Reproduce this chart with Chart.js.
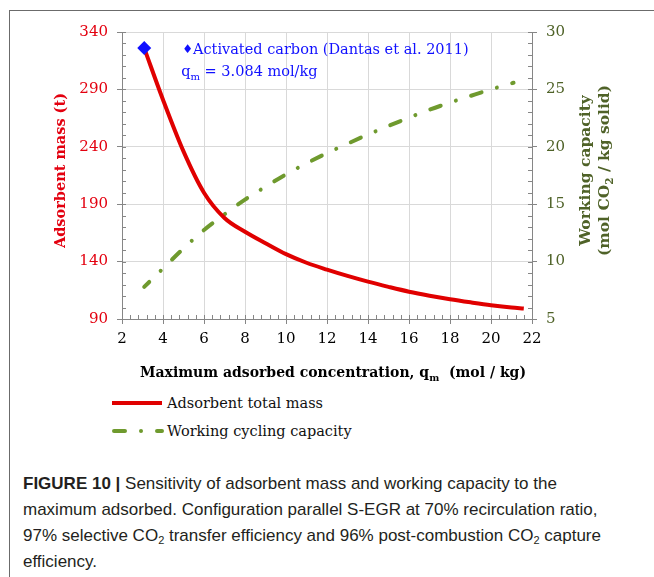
<!DOCTYPE html>
<html>
<head>
<meta charset="utf-8">
<script src="https://cdn.jsdelivr.net/npm/chart.js@4.4.1/dist/chart.umd.min.js"></script>
<style>
  html, body { margin: 0; padding: 0; background: #fff; }
  body { width: 654px; height: 577px; position: relative; overflow: hidden; }
  #frame { position: absolute; left: 9px; top: 10px; width: 700px; height: 600px; border-left: 1px solid #6b6b6b; border-top: 1px solid #6b6b6b; }
  #chartBox { position: absolute; left: 0; top: 0; width: 654px; height: 392px; }
  .leg { position: absolute; left: 110px; height: 20px; display: flex; align-items: center; font-family: "DejaVu Serif", serif; font-size: 14.5px; color: #111; }
  .leg svg { margin-right: 3px; }
  #caption { position: absolute; left: 23px; top: 471px; width: 630px; white-space: nowrap; font-family: "Liberation Sans", Arial, sans-serif; font-size: 17px; line-height: 26px; color: #231f20; }
  #caption b { font-weight: bold; }
  #caption sub { font-size: 11px; vertical-align: -3px; line-height: 0; }
</style>
</head>
<body>
<div id="frame"></div>
<div id="chartBox"><canvas id="adsorbentChart"></canvas></div>
<div class="leg" style="top:393px">
  <svg width="54" height="10"><line x1="2" y1="5" x2="52" y2="5" stroke="#e00000" stroke-width="4"/></svg><span>Adsorbent total mass</span>
</div>
<div class="leg" style="top:421px">
  <svg width="54" height="10"><line x1="4" y1="5" x2="52" y2="5" stroke="#6f9a2e" stroke-width="4" stroke-linecap="round" stroke-dasharray="11 16 0.01 16"/></svg><span>Working cycling capacity</span>
</div>
<div id="caption"><b>FIGURE 10 |</b> Sensitivity of adsorbent mass and working capacity to the<br>maximum adsorbed. Configuration parallel S-EGR at 70% recirculation ratio,<br>97% selective CO<sub>2</sub> transfer efficiency and 96% post-combustion CO<sub>2</sub> capture<br>efficiency.</div>
<script>
// adsorbent total mass (t) vs maximum adsorbed concentration qm (mol/kg)
const massQm = [3.084, 4, 5, 6, 7, 8, 9, 10, 11, 12, 13, 14, 15, 16, 17, 18, 19, 20, 21, 21.6];
const massTonnes = [326, 281, 236, 200, 178, 166, 156, 146.5, 139, 133, 127.5, 122.5, 118, 113.8, 110.3, 107.2, 104.5, 102, 100, 99.2];

// working cycling capacity (mol CO2 / kg solid)
const capQm = [3.084, 4, 5, 6, 7, 8, 9, 10, 11, 12, 13, 14, 15, 16, 17, 18, 19, 20, 21.1];
const capValues = [7.8, 9.4, 11.15, 12.75, 14.12, 15.4, 16.52, 17.6, 18.56, 19.45, 20.27, 21.07, 21.82, 22.54, 23.23, 23.85, 24.43, 25.0, 25.58];

// activated carbon marker (Dantas et al. 2011)
const markerQm = [3.084];
const markerMass = [326];

const xRange = [2, 22];
const massRange = [90, 340];
const capRange = [5, 30];

const RED = "#e00000";
const RED_TEXT = "#e3000f";
const GREEN = "#6f9a2e";
const GREEN_TEXT = "#4f6228";
const BLUE = "#1010ff";
const AXIS = "#868686";
const SERIF = "'DejaVu Serif', serif";

function toPoints(xs, ys) {
  return xs.map((x, i) => ({ x, y: ys[i] }));
}

function drawRich(ctx, parts, x, y, align) {
  let total = 0;
  parts.forEach((p) => {
    ctx.font = p.font;
    p.w = ctx.measureText(p.text).width;
    total += p.w;
  });
  let cx = align === "center" ? x - total / 2 : x;
  ctx.textAlign = "left";
  ctx.textBaseline = "alphabetic";
  parts.forEach((p) => {
    ctx.font = p.font;
    ctx.fillText(p.text, cx, y + (p.dy || 0));
    cx += p.w;
  });
}

const extras = {
  id: "extras",
  afterDraw(chart) {
    const { ctx, chartArea } = chart;
    const { x, y, y2 } = chart.scales;
    ctx.save();

    // inner minor ticks (Excel style: 5 per major interval)
    ctx.strokeStyle = AXIS;
    ctx.lineWidth = 1;
    ctx.beginPath();
    for (let i = 0; i <= 50; i++) {
      const px = Math.round(x.getPixelForValue(xRange[0] + i * 0.4)) + 0.5;
      ctx.moveTo(px, chartArea.bottom);
      ctx.lineTo(px, chartArea.bottom - 4);
    }
    for (let i = 0; i <= 25; i++) {
      const py = Math.round(y.getPixelForValue(massRange[0] + i * 10)) + 0.5;
      ctx.moveTo(chartArea.left, py);
      ctx.lineTo(chartArea.left + 4, py);
      const py2 = Math.round(y2.getPixelForValue(capRange[0] + i)) + 0.5;
      ctx.moveTo(chartArea.right, py2);
      ctx.lineTo(chartArea.right - 4, py2);
    }
    ctx.stroke();

    const midY = (chartArea.top + chartArea.bottom) / 2;

    // x axis title
    ctx.fillStyle = "#000";
    drawRich(ctx, [
      { text: "Maximum adsorbed concentration, q", font: "bold 14px " + SERIF },
      { text: "m", font: "bold 9.5px " + SERIF, dy: 4 },
      { text: "  (mol / kg)", font: "bold 14px " + SERIF }
    ], 333, 377, "center");

    // left axis title
    ctx.save();
    ctx.translate(65, midY - 5);
    ctx.rotate(-Math.PI / 2);
    ctx.fillStyle = RED_TEXT;
    drawRich(ctx, [{ text: "Adsorbent mass (t)", font: "bold 14.5px " + SERIF }], 0, 0, "center");
    ctx.restore();

    // right axis title, two lines
    ctx.save();
    ctx.translate(590, midY - 5);
    ctx.rotate(-Math.PI / 2);
    ctx.fillStyle = GREEN_TEXT;
    drawRich(ctx, [{ text: "Working capacity", font: "bold 15.5px " + SERIF }], 0, 0, "center");
    drawRich(ctx, [
      { text: "(mol CO", font: "bold 15.5px " + SERIF },
      { text: "2", font: "bold 10.5px " + SERIF, dy: 4 },
      { text: " / kg solid)", font: "bold 15.5px " + SERIF }
    ], 0, 19, "center");
    ctx.restore();

    // annotation next to the marker
    const ax = x.getPixelForValue(markerQm[0]) + 38;
    const ay = y.getPixelForValue(markerMass[0]);
    ctx.fillStyle = BLUE;
    drawRich(ctx, [
      { text: "\u2666", font: "12px " + SERIF, dy: -1 },
      { text: "Activated carbon (Dantas et al. 2011)", font: "14.5px " + SERIF }
    ], ax, ay + 6, "left");
    drawRich(ctx, [
      { text: "q", font: "14.5px " + SERIF },
      { text: "m", font: "10px " + SERIF, dy: 4 },
      { text: " = 3.084 mol/kg", font: "14.5px " + SERIF }
    ], ax - 1, ay + 28, "left");

    ctx.restore();
  }
};

const context = document.getElementById("adsorbentChart").getContext("2d");
new Chart(context, {
  type: "line",
  data: {
    datasets: [
      {
        label: "Adsorbent total mass",
        data: toPoints(massQm, massTonnes),
        yAxisID: "y",
        borderColor: RED,
        borderWidth: 4,
        pointRadius: 0,
        cubicInterpolationMode: "monotone",
        order: 2
      },
      {
        label: "Working cycling capacity",
        data: toPoints(capQm, capValues),
        yAxisID: "y2",
        borderColor: GREEN,
        borderWidth: 4,
        borderCapStyle: "round",
        borderDash: [11, 16, 0.01, 16],
        borderDashOffset: 4,
        pointRadius: 0,
        cubicInterpolationMode: "monotone",
        order: 3
      },
      {
        label: "Activated carbon",
        data: toPoints(markerQm, markerMass),
        yAxisID: "y",
        showLine: false,
        pointStyle: "rectRot",
        pointRadius: 7,
        backgroundColor: BLUE,
        borderColor: BLUE,
        borderWidth: 0,
        order: 1
      }
    ]
  },
  options: {
    responsive: true,
    maintainAspectRatio: false,
    animation: false,
    devicePixelRatio: 1,
    layout: { padding: { top: 32, left: 0, right: 0, bottom: 0 } },
    plugins: { legend: { display: false }, tooltip: { enabled: false } },
    scales: {
      x: {
        type: "linear",
        min: xRange[0],
        max: xRange[1],
        afterFit: (scale) => { scale.height = 73; },
        grid: { color: "#d9d9d9", tickColor: AXIS, tickLength: 5 },
        border: { color: AXIS },
        ticks: { stepSize: 2, color: "#000", padding: 6, font: { family: SERIF, size: 15 } }
      },
      y: {
        position: "left",
        min: massRange[0],
        max: massRange[1],
        afterFit: (scale) => { scale.width = 122; },
        grid: { color: "#d9d9d9", tickColor: AXIS, tickLength: 5 },
        border: { color: AXIS },
        ticks: { stepSize: 50, color: RED_TEXT, padding: 9, font: { family: SERIF, size: 15 } }
      },
      y2: {
        position: "right",
        min: capRange[0],
        max: capRange[1],
        afterFit: (scale) => { scale.width = 122; },
        grid: { drawOnChartArea: false, tickColor: AXIS, tickLength: 5 },
        border: { color: AXIS },
        ticks: { stepSize: 5, color: GREEN_TEXT, padding: 9, font: { family: SERIF, size: 15 } }
      }
    }
  },
  plugins: [extras]
});
</script>
</body>
</html>
